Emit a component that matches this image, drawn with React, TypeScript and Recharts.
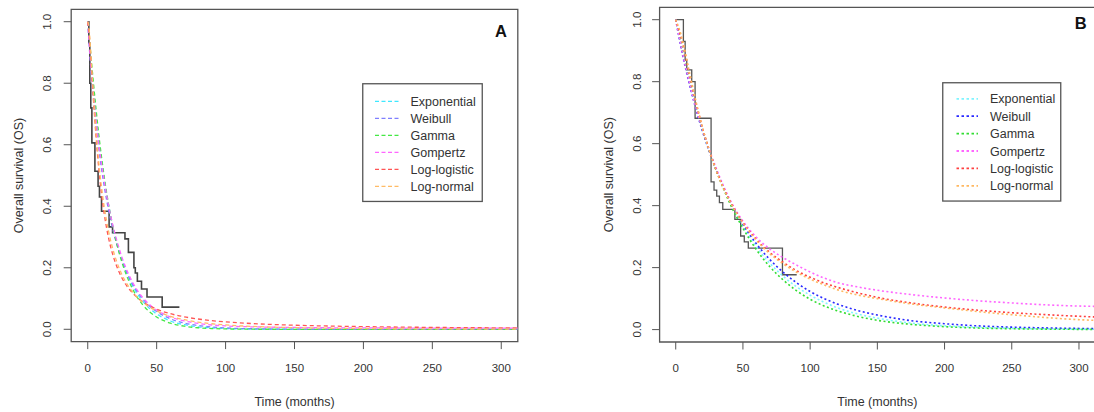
import React from 'react';
import { ComposedChart, Line, XAxis, YAxis, ReferenceArea } from 'recharts';

const FONT = '"Liberation Sans", Arial, Helvetica, sans-serif';
const TEXT = '#333333';
const FRAME = '#555555';

const xTicks = [0, 50, 100, 150, 200, 250, 300];
const yTicks = [0, 0.2, 0.4, 0.6, 0.8, 1.0];
const xDomain: [number, number] = [-12, 312];
const yDomain: [number, number] = [-0.04, 1.04];
const modelNames = ['Exponential', 'Weibull', 'Gamma', 'Gompertz', 'Log-logistic', 'Log-normal'];
const xTitle = 'Time (months)';
const yTitle = 'Overall survival (OS)';
const panelLabels = ['A', 'B'];

// ---------- Panel A ----------
const kmTimeA = [0, 0.8, 1.5, 2.2, 3, 5.2, 7.5, 8.5, 10, 15.5, 18, 27, 29.5, 33.5, 34.5, 36, 39, 43, 54, 66.5];
const kmSurvA = [1.0, 0.93, 0.8, 0.72, 0.606, 0.514, 0.465, 0.43, 0.384, 0.333, 0.314, 0.294, 0.25, 0.2, 0.183, 0.156, 0.131, 0.105, 0.072, 0.072];

const fitTimeA = [0, 1, 2, 3, 4, 6, 8, 10, 12, 15, 18, 21, 25, 30, 35, 40, 45, 50, 60, 70, 80, 90, 100, 125, 150, 175, 200, 250, 300, 312];
const expA = [1.0, 0.942, 0.887, 0.835, 0.787, 0.698, 0.619, 0.549, 0.487, 0.407, 0.34, 0.284, 0.223, 0.165, 0.122, 0.091, 0.067, 0.05, 0.027, 0.015, 0.008, 0.0045, 0.0025, 0.0006, 0.0001, 0, 0, 0, 0, 0];
const weibullA = [1.0, 0.925, 0.862, 0.807, 0.756, 0.666, 0.59, 0.522, 0.464, 0.39, 0.328, 0.277, 0.221, 0.168, 0.128, 0.098, 0.075, 0.058, 0.034, 0.0205, 0.0123, 0.0075, 0.0045, 0.0013, 0.0004, 0.0001, 0, 0, 0, 0];
const gammaA = [1.0, 0.955, 0.905, 0.856, 0.808, 0.717, 0.634, 0.56, 0.494, 0.409, 0.338, 0.279, 0.215, 0.155, 0.111, 0.079, 0.056, 0.04, 0.02, 0.01, 0.005, 0.0025, 0.0012, 0.0002, 0, 0, 0, 0, 0, 0];
const gompertzA = [1.0, 0.935, 0.876, 0.822, 0.772, 0.683, 0.606, 0.539, 0.481, 0.405, 0.342, 0.29, 0.232, 0.176, 0.134, 0.103, 0.08, 0.063, 0.04, 0.027, 0.019, 0.014, 0.011, 0.0075, 0.006, 0.005, 0.0045, 0.004, 0.004, 0.004];
const loglogA = [1.0, 0.961, 0.898, 0.827, 0.756, 0.628, 0.523, 0.439, 0.374, 0.299, 0.245, 0.205, 0.165, 0.131, 0.107, 0.089, 0.076, 0.0655, 0.0506, 0.0406, 0.0335, 0.0282, 0.0242, 0.0174, 0.0133, 0.0106, 0.0087, 0.0062, 0.0047, 0.0045];
const lognormA = [1.0, 0.977, 0.914, 0.841, 0.77, 0.644, 0.543, 0.462, 0.397, 0.321, 0.264, 0.22, 0.176, 0.137, 0.108, 0.0875, 0.0717, 0.0595, 0.0423, 0.0311, 0.0235, 0.0181, 0.0143, 0.0084, 0.0053, 0.0035, 0.0024, 0.0013, 0.0007, 0.0006];

// ---------- Panel B ----------
const kmTimeB = [0, 5.7, 7, 8.2, 11.9, 14.4, 26.3, 28.5, 30.5, 32.5, 35, 44, 48.3, 51, 54, 79.4, 90];
const kmSurvB = [1.0, 0.93, 0.87, 0.838, 0.8, 0.682, 0.477, 0.45, 0.431, 0.41, 0.388, 0.356, 0.302, 0.283, 0.263, 0.177, 0.177];

const fitTimeB = [0, 5, 10, 15, 20, 25, 30, 35, 40, 45, 50, 60, 70, 80, 90, 100, 110, 120, 135, 150, 175, 200, 225, 250, 275, 300, 312];
const expB = [1.0, 0.896, 0.803, 0.719, 0.644, 0.577, 0.517, 0.463, 0.415, 0.372, 0.333, 0.267, 0.214, 0.172, 0.138, 0.111, 0.089, 0.071, 0.051, 0.037, 0.021, 0.0123, 0.0071, 0.0041, 0.0024, 0.0014, 0.001];
const weibullB = [1.0, 0.888, 0.795, 0.712, 0.639, 0.574, 0.516, 0.464, 0.418, 0.377, 0.34, 0.277, 0.226, 0.185, 0.151, 0.123, 0.101, 0.083, 0.062, 0.047, 0.029, 0.019, 0.012, 0.008, 0.0055, 0.0038, 0.0032];
const gammaB = [1.0, 0.9, 0.805, 0.72, 0.645, 0.577, 0.515, 0.46, 0.41, 0.366, 0.327, 0.258, 0.203, 0.16, 0.125, 0.098, 0.077, 0.061, 0.043, 0.03, 0.017, 0.0095, 0.005, 0.0028, 0.0015, 0.0008, 0.0006];
const gompertzB = [1.0, 0.893, 0.8, 0.717, 0.645, 0.58, 0.522, 0.469, 0.422, 0.383, 0.35, 0.298, 0.26, 0.232, 0.208, 0.186, 0.167, 0.152, 0.138, 0.127, 0.113, 0.102, 0.093, 0.086, 0.08, 0.076, 0.075];
const loglogB = [1.0, 0.926, 0.828, 0.734, 0.65, 0.578, 0.516, 0.463, 0.418, 0.379, 0.345, 0.291, 0.249, 0.217, 0.19, 0.169, 0.151, 0.137, 0.119, 0.104, 0.086, 0.0727, 0.0625, 0.0545, 0.0482, 0.043, 0.0408];
const lognormB = [1.0, 0.935, 0.835, 0.737, 0.65, 0.577, 0.514, 0.461, 0.416, 0.377, 0.343, 0.288, 0.245, 0.212, 0.185, 0.163, 0.145, 0.129, 0.112, 0.1, 0.083, 0.07, 0.058, 0.048, 0.039, 0.032, 0.03];

const colorsA = ['#3fe8ff', '#7f7fff', '#44e844', '#ff66ff', '#ff5555', '#ffbb66'];
const colorsB = ['#7ff4ff', '#2a2aff', '#33dd33', '#ff66ff', '#ff4040', '#ffb860'];

const pts = (ts: number[], ss: number[]) => ts.map((t, i) => ({ t, s: ss[i] }));

const YTick = (props: any) => {
  const { x, y, payload } = props;
  return (
    <text x={x} y={y} transform={`rotate(-90 ${x} ${y})`} textAnchor="middle" dy="0.36em"
      fontSize={11.5} fill={TEXT} fontFamily={FONT}>{Number(payload.value).toFixed(1)}</text>
  );
};

type PanelProps = {
  left: number; width: number;
  margin: { top: number; right: number; bottom: number; left: number };
  xAxisHeight: number; yTickMargin: number;
  km: { t: number; s: number }[];
  fits: { t: number; s: number }[][];
  colors: string[]; dash: string; fitWidth: number; kmColor: string; kmWidth: number;
  label: string; labelX: number; labelY: number;
  yTitleX: number; xTitleY: number;
};

function Panel(p: PanelProps) {
  const plotTop = p.margin.top;
  const plotBottom = 412 - p.margin.bottom - p.xAxisHeight;
  const plotLeft = p.margin.left + 60;
  const plotRight = p.width - p.margin.right;
  return (
    <div style={{ position: 'absolute', left: p.left, top: 0 }}>
      <ComposedChart width={p.width} height={412} margin={p.margin}>
        <XAxis dataKey="t" type="number" domain={xDomain} ticks={xTicks} allowDataOverflow
          height={p.xAxisHeight} axisLine={false} tickSize={7.5} tickMargin={14.5}
          tickLine={{ stroke: FRAME }} tick={{ fontSize: 11.5, fill: TEXT, fontFamily: FONT }} />
        <YAxis type="number" domain={yDomain} ticks={yTicks} allowDataOverflow width={60}
          axisLine={false} tickSize={7.5} tickMargin={p.yTickMargin}
          tickLine={{ stroke: FRAME }} tick={<YTick />} />
        <ReferenceArea x1={xDomain[0]} x2={xDomain[1]} y1={yDomain[0]} y2={yDomain[1]}
          fill="none" stroke={FRAME} strokeWidth={1.3} fillOpacity={0} strokeOpacity={1} />
        <Line data={p.km} dataKey="s" type="stepAfter" stroke={p.kmColor} strokeWidth={p.kmWidth}
          dot={false} activeDot={false} isAnimationActive={false} />
        {p.fits.map((d, i) => (
          <Line key={modelNames[i]} data={d} dataKey="s" type="monotone" stroke={p.colors[i]}
            strokeWidth={p.fitWidth} strokeDasharray={p.dash} dot={false} activeDot={false}
            isAnimationActive={false} />
        ))}
        <text x={p.labelX} y={p.labelY} textAnchor="middle" fontSize={16.5} fontWeight="bold"
          fill="#111" fontFamily={FONT}>{p.label}</text>
        <text x={(plotLeft + plotRight) / 2} y={p.xTitleY} textAnchor="middle" fontSize={12.5}
          fill={TEXT} fontFamily={FONT}>{xTitle}</text>
        <text x={p.yTitleX} y={(plotTop + plotBottom) / 2}
          transform={`rotate(-90 ${p.yTitleX} ${(plotTop + plotBottom) / 2})`}
          textAnchor="middle" dy="0.36em" fontSize={12.5} fill={TEXT} fontFamily={FONT}>{yTitle}</text>
      </ComposedChart>
    </div>
  );
}

type LegendProps = {
  left: number; top: number; width: number; height: number;
  firstY: number; step: number; lineX1: number; lineX2: number; textX: number;
  colors: string[]; dash: string; lineWidth: number;
};

function FitLegend(l: LegendProps) {
  return (
    <svg style={{ position: 'absolute', left: l.left, top: l.top }} width={l.width + 2} height={l.height + 2}>
      <rect x={0.75} y={0.75} width={l.width} height={l.height} fill="#fff" stroke={FRAME} strokeWidth={1.3} />
      {modelNames.map((name, i) => {
        const y = l.firstY + l.step * i;
        return (
          <g key={name}>
            <line x1={l.lineX1} x2={l.lineX2} y1={y} y2={y} stroke={l.colors[i]} strokeWidth={l.lineWidth}
              strokeDasharray={l.dash} />
            <text x={l.textX} y={y} dy="0.36em" fontSize={12.5} fill={TEXT} fontFamily={FONT}>{name}</text>
          </g>
        );
      })}
    </svg>
  );
}

export default function App() {
  const fitsA = [expA, weibullA, gammaA, gompertzA, loglogA, lognormA].map((s) => pts(fitTimeA, s));
  const fitsB = [expB, weibullB, gammaB, gompertzB, loglogB, lognormB].map((s) => pts(fitTimeB, s));
  return (
    <div style={{ position: 'absolute', left: 0, top: 0, width: 1094, height: 412, overflow: 'hidden', background: '#fff' }}>
      <Panel left={0} width={540} margin={{ top: 9.4, right: 22.2, bottom: 0, left: 11.2 }}
        xAxisHeight={70.4} yTickMargin={17}
        km={pts(kmTimeA, kmSurvA)} fits={fitsA} colors={colorsA} dash="4 3" fitWidth={1.3}
        kmColor="#444" kmWidth={1.6}
        label={panelLabels[0]} labelX={501} labelY={36.5} yTitleX={18.3} xTitleY={405.5} />
      <Panel left={590} width={510} margin={{ top: 7.3, right: 4.9, bottom: 0, left: 9.6 }}
        xAxisHeight={70} yTickMargin={15.4}
        km={pts(kmTimeB, kmSurvB)} fits={fitsB} colors={colorsB} dash="2 2.5" fitWidth={1.6}
        kmColor="#555" kmWidth={1.3}
        label={panelLabels[1]} labelX={490.7} labelY={29.3} yTitleX={18.3} xTitleY={405.5} />
      <FitLegend left={362} top={83} width={119.5} height={117.7} firstY={18.4} step={17}
        lineX1={13} lineX2={37.5} textX={48.5} colors={colorsA} dash="4 2.5" lineWidth={1.3} />
      <FitLegend left={942} top={81.5} width={118} height={118.3} firstY={16.8} step={17.4}
        lineX1={14.5} lineX2={36} textX={48} colors={colorsB} dash="2.5 2.5" lineWidth={1.8} />
    </div>
  );
}
